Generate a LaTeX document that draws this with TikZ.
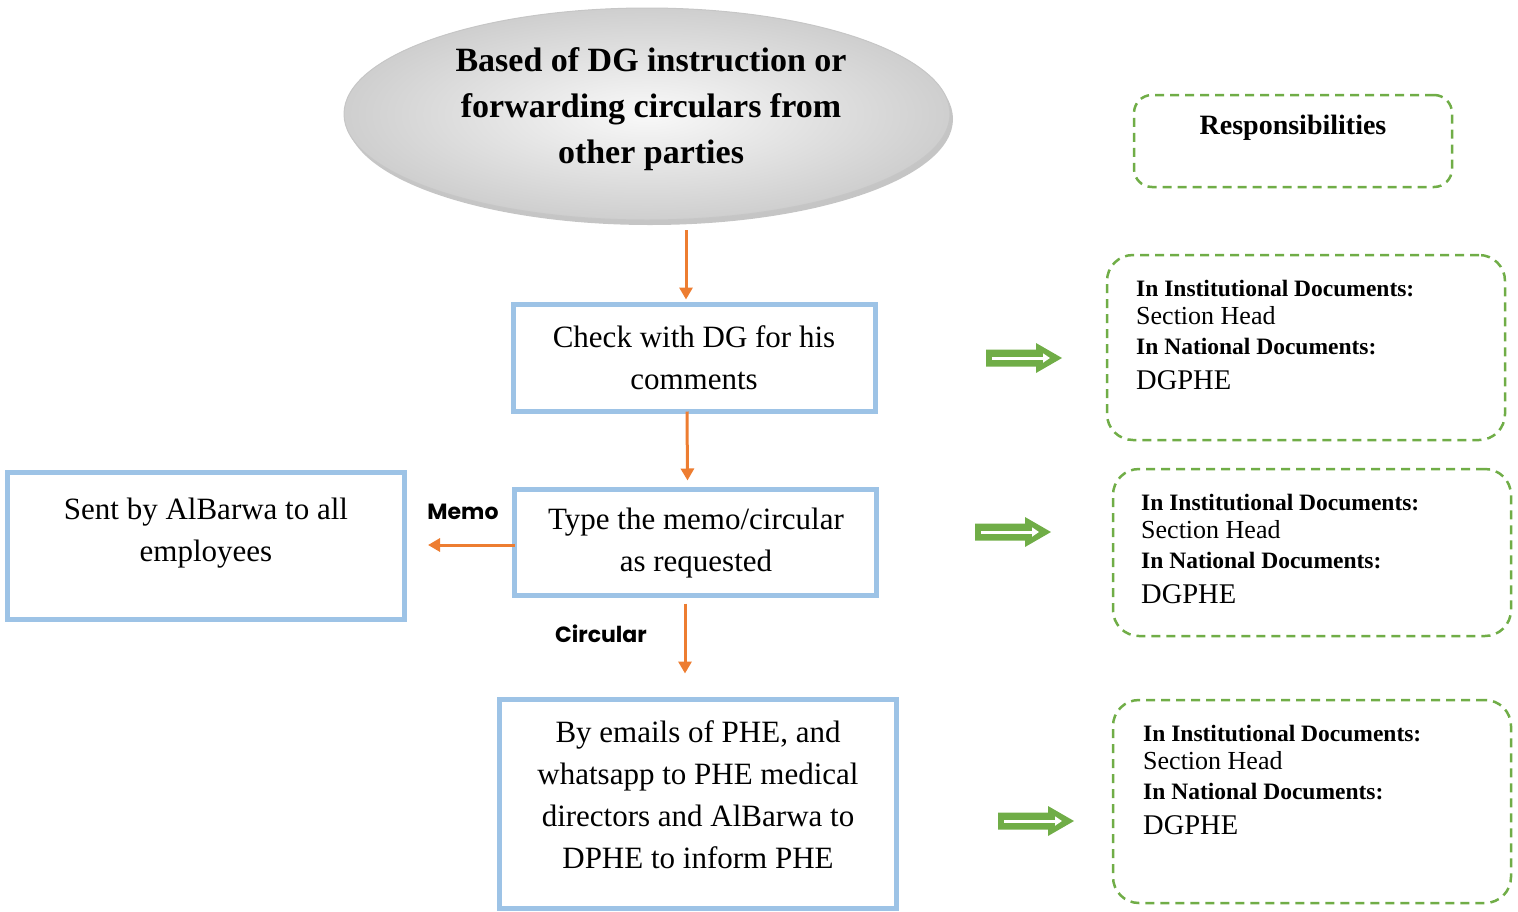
\documentclass[tikz,border=0pt]{standalone}
\usepackage{fontspec}
\setmainfont{Liberation Serif}
\newfontfamily\gothic{Poppins}
\usetikzlibrary{arrows.meta,shadows,shapes.geometric,calc}
\definecolor{boxblue}{HTML}{9DC3E6}
\definecolor{arrorange}{HTML}{ED7D31}
\definecolor{dgreen}{HTML}{70AD47}
\tikzset{
  bluebox/.style={draw=boxblue, line width=5pt, fill=white, inner sep=0pt, outer sep=0pt},
  boxtext/.style={align=center, font=\fontsize{31}{42}\selectfont, inner sep=0pt},
  oarrow/.style={draw=arrorange, line width=3pt, -{Triangle[length=12pt,width=13pt]}},
  dbox/.style={draw=dgreen, line width=2.5pt, dash pattern=on 9pt off 6pt, rounded corners=26pt, inner sep=0pt, outer sep=0pt},
  lbl/.style={font=\gothic\bfseries\fontsize{22}{26}\selectfont, inner sep=0pt},
  rbold/.style={anchor=base west, inner sep=0pt, font=\bfseries\fontsize{23.5}{28}\selectfont},
  rreg/.style={anchor=base west, inner sep=0pt, font=\fontsize{26}{30}\selectfont},
  rbig/.style={anchor=base west, inner sep=0pt, font=\fontsize{28.5}{32}\selectfont},
  garrow/.pic={
    \fill[dgreen] (0,-8.5) -- (50,-8.5) -- (50,-15) -- (76,0) -- (50,15) -- (50,8.5) -- (0,8.5) -- cycle;
    \draw[white, line width=3pt, -{Triangle[length=7pt,width=9pt]}] (6,0) -- (64,0);
  }
}
\newcommand{\respblock}[3]{%
  \node[rbold] (#1a) at (#2,#3) {In Institutional Documents:};
  \node[rreg]  (#1b) at (#2,#3+28.5) {Section Head};
  \node[rbold] (#1c) at (#2,#3+58.5) {In National Documents:};
  \node[rbig]  (#1d) at (#2,#3+93.5) {DGPHE};
}
\begin{document}
\begin{tikzpicture}[x=1pt,y=-1pt]
\useasboundingbox (0,0) rectangle (1518,911);

% top ellipse
\node[ellipse, minimum width=606pt, minimum height=212pt, inner sep=0pt, outer sep=0pt,
      inner color=gray!5, outer color=gray!38, draw=gray!45, line width=1pt,
      drop shadow={shadow xshift=3pt, shadow yshift=-5pt, fill=gray!75, opacity=0.6}]
      (top) at (647,114) {};
\node[align=center, inner sep=0pt, font=\bfseries\fontsize{34}{46}\selectfont] (toptext) at (651,109)
  {Based of DG instruction or\\forwarding circulars from\\other parties};

% blue boxes
\node[bluebox, minimum width=362pt, minimum height=107pt] (check) at (694,358) {};
\node[boxtext] (checktext) at (694,358) {Check with DG for his\\comments};
\node[bluebox, minimum width=362pt, minimum height=106pt] (type) at (695.5,542.5) {};
\node[boxtext] (typetext) at (696,543) {Type the memo/circular\\as requested};
\node[bluebox, minimum width=397pt, minimum height=147pt] (sent) at (206,546) {};
\node[boxtext] (senttext) at (206,533) {Sent by AlBarwa to all\\employees};
\node[bluebox, minimum width=397pt, minimum height=209pt] (email) at (698,804) {};
\node[boxtext] (emailtext) at (698,795) {By emails of PHE, and\\whatsapp to PHE medical\\directors and AlBarwa to\\DPHE to inform PHE};

% orange connectors
\coordinate (a1s) at (686,230);
\draw[oarrow] (a1s) -- ([xshift=-8pt,yshift=5pt]check.north);
\draw[oarrow] ([xshift=-7pt]check.south) -- ([xshift=-8pt,yshift=9pt]type.north);
\draw[oarrow] ([xshift=-10.5pt,yshift=-8pt]type.south) -- ([xshift=-13pt,yshift=26pt]email.north);
\coordinate (memoend) at (428,545);
\draw[oarrow] (type.west |- memoend) -- (memoend);
\node[lbl] (memo) at (463,512) {Memo};
\node[lbl] (circ) at (601,634) {Circular};

% responsibilities
\node[dbox, rounded corners=18pt, minimum width=318pt, minimum height=92pt] (resp) at (1293,141) {};
\node[inner sep=0pt, font=\bfseries\fontsize{28}{32}\selectfont] (resptext) at (1293,128) {Responsibilities};

\node[dbox, minimum width=398pt, minimum height=185pt] (d1) at (1306,347.5) {};
\respblock{r1}{1136}{296}
\node[dbox, minimum width=398pt, minimum height=167pt] (d2) at (1312,552.5) {};
\respblock{r2}{1141}{510}
\node[dbox, minimum width=398pt, minimum height=203pt] (d3) at (1312,801.5) {};
\respblock{r3}{1143}{741}

% green arrows
\pic at (986,358) {garrow};
\pic at (975,532) {garrow};
\pic at (998,821) {garrow};
\end{tikzpicture}
\end{document}
